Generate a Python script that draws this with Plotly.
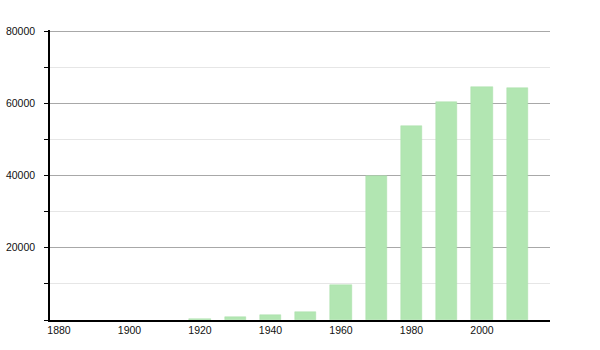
import plotly.graph_objects as go

years = [1920, 1930, 1940, 1950, 1960, 1970, 1980, 1990, 2000, 2010]
population = [250, 800, 1450, 2250, 9700, 39850, 53800, 60400, 64400, 64150]
x_ticks = [1880, 1900, 1920, 1940, 1960, 1980, 2000]
y_ticks = [20000, 40000, 60000, 80000]

fig = go.Figure(go.Bar(
    x=years, y=population, width=6,
    marker=dict(color="#b2e6b2", line=dict(color="#a8dfa8", width=0.5)),
))

fig.update_layout(
    width=600, height=350,
    margin=dict(l=50, r=50, t=30, b=30, autoexpand=False),
    plot_bgcolor="white", paper_bgcolor="white",
    showlegend=False,
    font=dict(family="Liberation Sans, Arial, sans-serif", size=10.5, color="#111"),
    bargap=0,
)
fig.update_xaxes(
    range=[1877.45, 2019.3], tickvals=x_ticks, ticktext=[str(v) for v in x_ticks],
    showline=True, linecolor="black", linewidth=1.5, showgrid=False, zeroline=False,
    ticks="", ticklabelstandoff=0, automargin=False,
)
fig.update_yaxes(
    range=[0, 80300], tickvals=y_ticks, ticktext=[str(v) for v in y_ticks],
    showline=True, linecolor="black", linewidth=1.5,
    showgrid=True, gridcolor="#a8a8a8", gridwidth=1, zeroline=False,
    ticks="outside", ticklen=4, tickcolor="black",
    minor=dict(dtick=10000, showgrid=True, gridcolor="#e6e6e6", ticks="outside", ticklen=4, tickcolor="black"),
    ticklabelstandoff=7, automargin=False,
)
fig.write_html("out.html")
